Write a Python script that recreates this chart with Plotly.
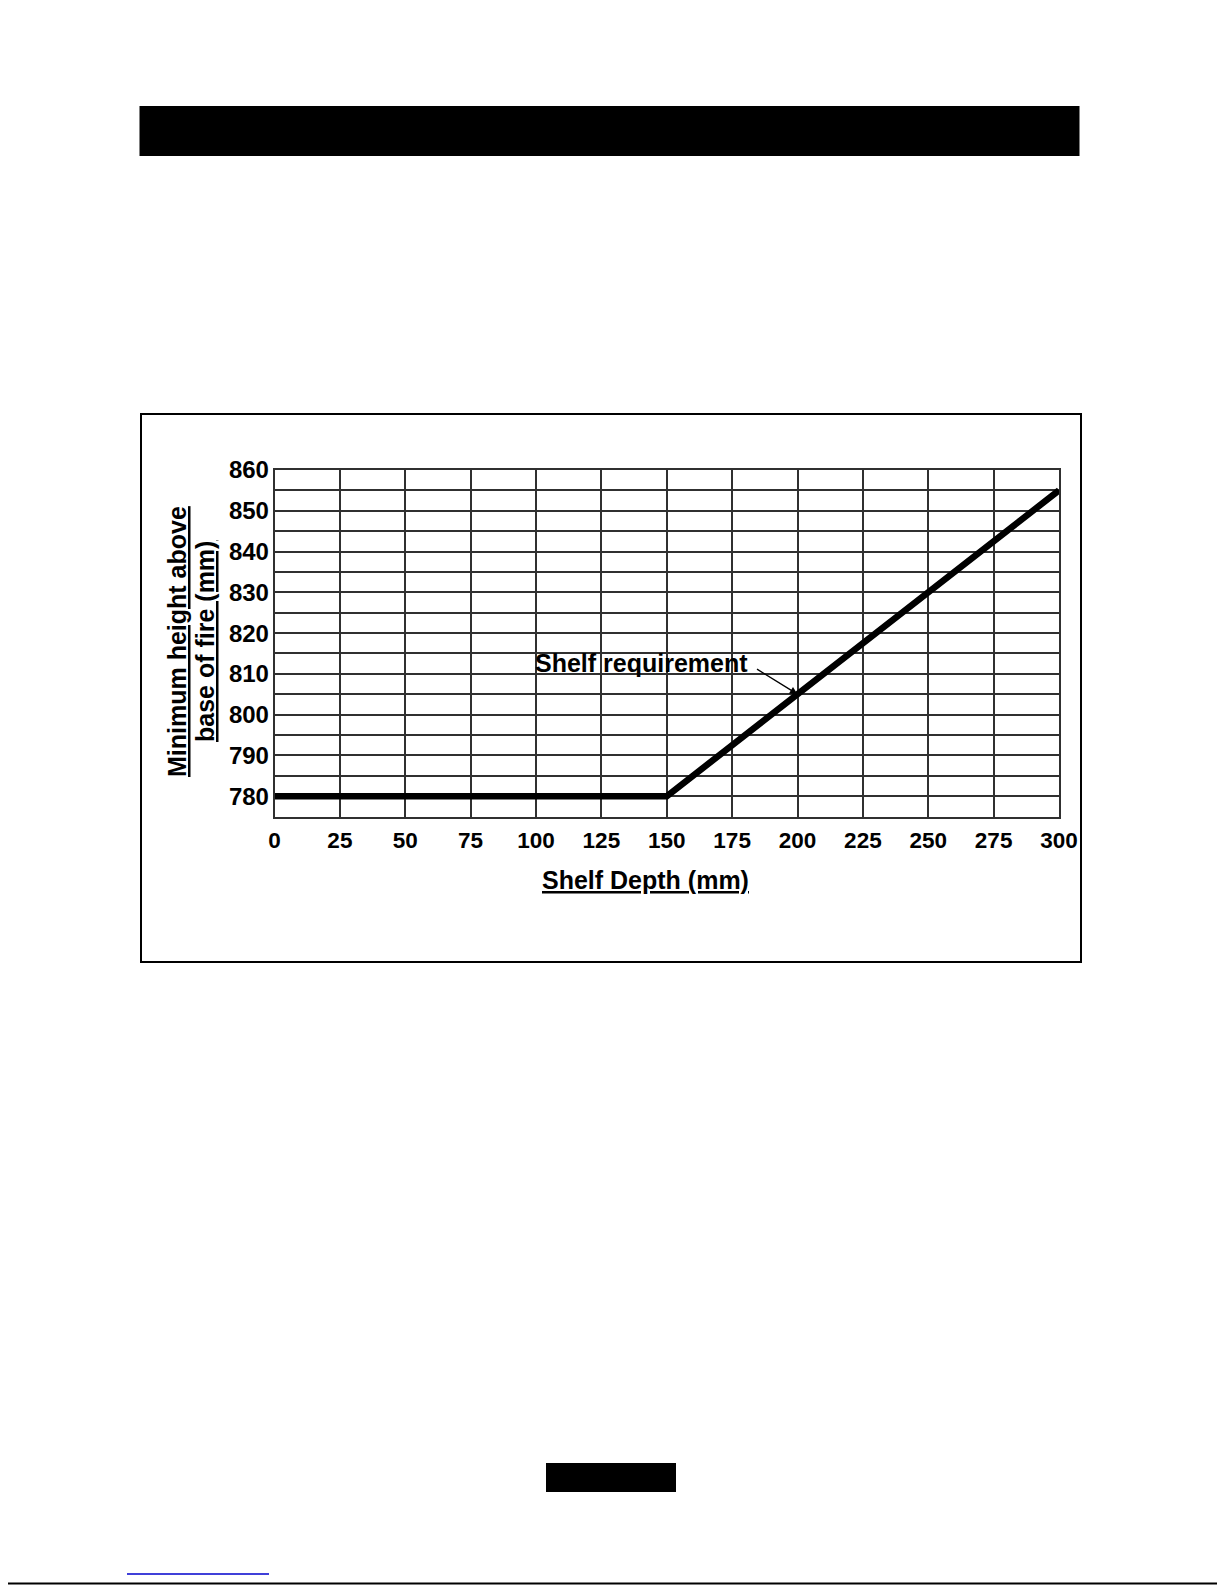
import plotly.graph_objects as go

# ---- data ----
shelf_depth = [0, 150, 300]
min_height = [780, 780, 855]
x_ticks = [0, 25, 50, 75, 100, 125, 150, 175, 200, 225, 250, 275, 300]
x_tick_labels = [str(v) for v in x_ticks]
y_ticks = [780, 790, 800, 810, 820, 830, 840, 850, 860]
y_tick_labels = [str(v) for v in y_ticks]
y_title_lines = ["Minimum height above", "base of fire (mm)"]
x_title = "Shelf Depth (mm)"
annotation_text = "Shelf requirement"
annotation_point = (200, 805)

W, H = 1225, 1585
OFF = 8  # default page margin of the html body
FONT = "Liberation Sans, Arial, sans-serif"


def px(x):
    return (x - OFF) / W


def py(y):
    return 1 - (y - OFF) / H


# plot area in page pixels
L, R, T, B = 274.5, 1059, 470, 816.6

fig = go.Figure()
fig.add_trace(go.Scatter(
    x=shelf_depth, y=min_height, mode="lines",
    line=dict(color="black", width=6.5), showlegend=False, hoverinfo="skip",
))

grid_col = "#303030"
fig.update_layout(
    width=W, height=H, autosize=False,
    margin=dict(l=0, r=0, t=0, b=0, autoexpand=False),
    paper_bgcolor="white", plot_bgcolor="white",
    showlegend=False,
    xaxis=dict(
        domain=[px(L), px(R)], range=[0, 300], automargin=False,
        tickvals=x_ticks, ticktext=x_tick_labels,
        showgrid=True, gridcolor=grid_col, gridwidth=1.5,
        showline=True, linecolor=grid_col, linewidth=1.5, mirror=True,
        zeroline=False, ticks="",
        tickfont=dict(family=FONT, size=22.5, color="black", weight="bold"),
        ticklabelstandoff=3,
    ),
    yaxis=dict(
        domain=[py(B), py(T)], range=[775, 860], automargin=False,
        tickvals=y_ticks, ticktext=y_tick_labels,
        showgrid=True, gridcolor=grid_col, gridwidth=1.5,
        minor=dict(dtick=5, tick0=775, showgrid=True, gridcolor=grid_col, gridwidth=1.5),
        showline=True, linecolor=grid_col, linewidth=1.5, mirror=True,
        zeroline=False, ticks="",
        tickfont=dict(family=FONT, size=24, color="black", weight="bold"),
        ticklabelstandoff=-1,
    ),
)

# y axis title (two underlined lines, rotated)
for line_text, cx in zip(y_title_lines, [177, 205]):
    fig.add_annotation(
        xref="paper", yref="paper", x=px(cx), y=py(642),
        text="<u>" + line_text + "</u>", showarrow=False,
        textangle=-90,
        font=dict(family=FONT, size=25, color="black", weight="bold"),
        xanchor="center", yanchor="middle",
    )

# x axis title
fig.add_annotation(
    xref="paper", yref="paper", x=px(645), y=py(880),
    text="<u>" + x_title + "</u>", showarrow=False,
    font=dict(family=FONT, size=25, color="black", weight="bold"),
    xanchor="center", yanchor="middle",
)

# callout label
fig.add_annotation(
    xref="paper", yref="paper", x=px(641.5), y=py(663),
    text=annotation_text, showarrow=False,
    font=dict(family=FONT, size=25, color="black", weight="bold"),
    xanchor="center", yanchor="middle",
)
# callout arrow
fig.add_annotation(
    x=annotation_point[0], y=annotation_point[1], xref="x", yref="y",
    text="", showarrow=True, arrowhead=2, arrowsize=1.1, arrowwidth=1.4,
    arrowcolor="black", axref="pixel", ayref="pixel", ax=-42, ay=-26,
)

shapes = [
    # top black header bar
    dict(type="rect", xref="paper", yref="paper", x0=px(139.5), x1=px(1079.5), y0=py(156), y1=py(106),
         fillcolor="black", line=dict(width=0)),
    # chart frame
    dict(type="rect", xref="paper", yref="paper", x0=px(141), x1=px(1081), y0=py(962), y1=py(414),
         fillcolor="rgba(0,0,0,0)", line=dict(color="black", width=2)),
    # bottom black tab
    dict(type="rect", xref="paper", yref="paper", x0=px(546), x1=px(676), y0=py(1492), y1=py(1463),
         fillcolor="black", line=dict(width=0)),
    # blue footnote rule
    dict(type="line", xref="paper", yref="paper", x0=px(127), x1=px(269), y0=py(1574), y1=py(1574),
         line=dict(color="#0000cc", width=1.5)),
    # bottom page rule
    dict(type="line", xref="paper", yref="paper", x0=0, x1=1, y0=py(1583.5), y1=py(1583.5),
         line=dict(color="black", width=2)),
]
fig.update_layout(shapes=shapes)

fig.write_html("out.html")
